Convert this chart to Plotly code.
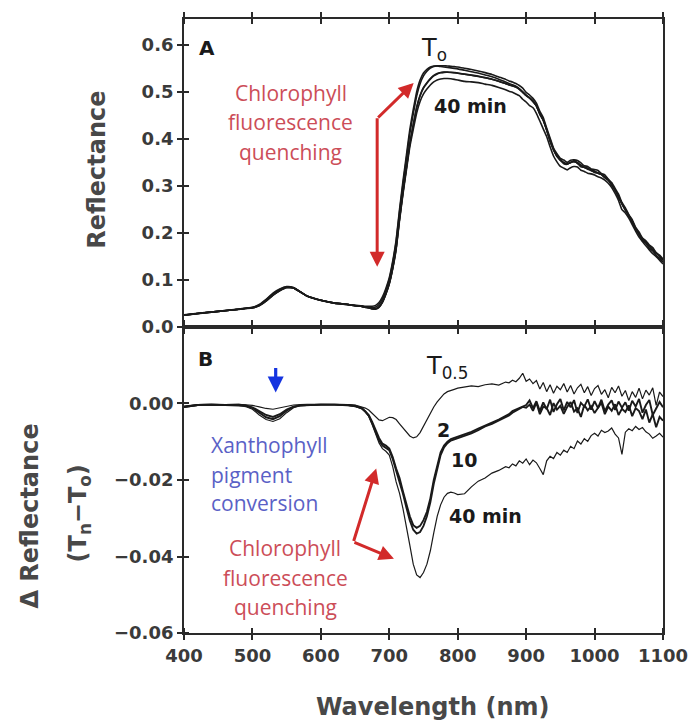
import numpy as np
import plotly.graph_objects as go

# Wavelength sampling grid (nm)
wavelength = [
    400, 420, 440, 460, 480, 490, 500, 510, 520, 530,
    540, 550, 560, 570, 580, 600, 620, 640, 650, 660,
    665, 670, 675, 680, 685, 690, 695, 700, 705, 710,
    715, 720, 725, 730, 735, 740, 745, 750, 755, 760,
    765, 770, 775, 780, 785, 790, 795, 800, 810, 820,
    830, 840, 850, 860, 870, 875, 880, 885, 890, 895,
    900, 905, 910, 915, 920, 925, 930, 935, 940, 945,
    950, 955, 960, 965, 970, 975, 980, 985, 990, 995,
    1000, 1005, 1010, 1015, 1020, 1025, 1030, 1035, 1040, 1045,
    1050, 1055, 1060, 1065, 1070, 1075, 1080, 1085, 1090, 1095,
    1100,
]

# Canopy reflectance at the start of the light treatment (T0)
refl_t0 = [
    0.026, 0.029, 0.032, 0.035, 0.038, 0.040, 0.042, 0.048, 0.059, 0.072,
    0.081, 0.086, 0.084, 0.075, 0.066, 0.057, 0.051, 0.048, 0.046, 0.045,
    0.044, 0.044, 0.044, 0.046, 0.052, 0.064, 0.082, 0.105, 0.140, 0.185,
    0.250, 0.310, 0.365, 0.420, 0.462, 0.500, 0.525, 0.540, 0.548, 0.553,
    0.555, 0.555, 0.554, 0.553, 0.552, 0.551, 0.550, 0.549, 0.546, 0.543,
    0.540, 0.536, 0.532, 0.527, 0.521, 0.518, 0.515, 0.512, 0.507, 0.500,
    0.493, 0.487, 0.481, 0.470, 0.455, 0.440, 0.420, 0.397, 0.378, 0.364,
    0.355, 0.350, 0.347, 0.350, 0.353, 0.350, 0.344, 0.340, 0.337, 0.334,
    0.331, 0.328, 0.324, 0.320, 0.313, 0.303, 0.292, 0.278, 0.263, 0.250,
    0.238, 0.225, 0.210, 0.198, 0.188, 0.180, 0.172, 0.165, 0.158, 0.150,
    0.143,
]

# Reflectance change relative to T0 after 0.5 min
delta_t05 = [
    -0.0008, -0.0003, -0.0002, -0.0003, -0.0002, -0.0003, -0.0005, -0.0009, -0.0013, -0.0015,
    -0.0012, -0.0007, -0.0004, -0.0003, -0.0002, -0.0002, -0.0002, -0.0003, -0.0004, -0.0008,
    -0.0012, -0.0017, -0.0026, -0.0036, -0.0043, -0.0045, -0.0040, -0.0036, -0.0037, -0.0042,
    -0.0053, -0.0064, -0.0076, -0.0085, -0.0090, -0.0087, -0.0076, -0.0060, -0.0042, -0.0024,
    -0.0009, 0.0004, 0.0016, 0.0025, 0.0031, 0.0035, 0.0037, 0.0040, 0.0043, 0.0046,
    0.0044, 0.0049, 0.0051, 0.0048, 0.0056, 0.0054, 0.0061, 0.0057, 0.0066, 0.0079,
    0.0058, 0.0064, 0.0052, 0.0060, 0.0038, 0.0055, 0.0031, 0.0049, 0.0027, 0.0045,
    0.0036, 0.0052, 0.0030, 0.0047, 0.0025, 0.0041, 0.0050, 0.0028, 0.0044, 0.0021,
    0.0039, 0.0047, 0.0024, 0.0036, 0.0015, 0.0042, 0.0028, 0.0046, 0.0019, 0.0034,
    0.0008, 0.0031, 0.0016, 0.0040, 0.0012, 0.0035, 0.0022, 0.0041, -0.0005, 0.0030,
    0.0018,
]

# ... after 2 min
delta_t2 = [
    -0.0008, -0.0004, -0.0003, -0.0004, -0.0003, -0.0005, -0.0010, -0.0020, -0.0030, -0.0035,
    -0.0028, -0.0016, -0.0008, -0.0005, -0.0004, -0.0003, -0.0003, -0.0004, -0.0006, -0.0012,
    -0.0020, -0.0030, -0.0048, -0.0068, -0.0090, -0.0105, -0.0110, -0.0118, -0.0140, -0.0170,
    -0.0195, -0.0230, -0.0262, -0.0295, -0.0318, -0.0325, -0.0320, -0.0305, -0.0283, -0.0248,
    -0.0200, -0.0160, -0.0128, -0.0110, -0.0100, -0.0093, -0.0090, -0.0088, -0.0082, -0.0074,
    -0.0066, -0.0057, -0.0050, -0.0042, -0.0034, -0.0028, -0.0020, -0.0016, -0.0010, -0.0007,
    -0.0004, 0.0008, -0.0012, 0.0006, -0.0020, 0.0003, -0.0015, 0.0010, -0.0022, -0.0002,
    0.0012, -0.0018, 0.0004, -0.0010, 0.0009, -0.0025, 0.0002, -0.0008, 0.0011, -0.0016,
    0.0006, -0.0012, 0.0010, -0.0020, -0.0003, 0.0008, -0.0017, 0.0005, -0.0011, 0.0003,
    -0.0019, 0.0007, -0.0008, 0.0012, -0.0024, -0.0004, 0.0009, -0.0030, -0.0012, 0.0004,
    -0.0010,
]

# ... after 10 min
delta_t10 = [
    -0.0009, -0.0004, -0.0003, -0.0004, -0.0004, -0.0006, -0.0012, -0.0024, -0.0036, -0.0041,
    -0.0033, -0.0019, -0.0009, -0.0005, -0.0004, -0.0003, -0.0003, -0.0004, -0.0007, -0.0013,
    -0.0021, -0.0032, -0.0052, -0.0074, -0.0096, -0.0110, -0.0115, -0.0122, -0.0145, -0.0175,
    -0.0200, -0.0236, -0.0272, -0.0306, -0.0330, -0.0340, -0.0336, -0.0320, -0.0295, -0.0258,
    -0.0210, -0.0168, -0.0135, -0.0115, -0.0104, -0.0097, -0.0094, -0.0092, -0.0086, -0.0078,
    -0.0070, -0.0060, -0.0053, -0.0045, -0.0037, -0.0031, -0.0024, -0.0019, -0.0014, -0.0009,
    -0.0011, -0.0003, -0.0019, 0.0002, -0.0028, -0.0008, -0.0012, -0.0030, 0.0001, -0.0016,
    -0.0006, -0.0027, -0.0009, 0.0004, -0.0021, -0.0013, -0.0035, -0.0004, -0.0018, -0.0007,
    -0.0025, -0.0010, 0.0002, -0.0028, -0.0008, -0.0019, -0.0002, -0.0030, -0.0014, -0.0022,
    -0.0005, -0.0033, -0.0012, -0.0020, -0.0041, -0.0016, -0.0050, -0.0028, -0.0062, -0.0035,
    -0.0045,
]

# ... after 40 min
delta_t40 = [
    -0.0010, -0.0005, -0.0004, -0.0005, -0.0005, -0.0008, -0.0015, -0.0030, -0.0042, -0.0047,
    -0.0040, -0.0024, -0.0011, -0.0006, -0.0005, -0.0004, -0.0004, -0.0005, -0.0008, -0.0014,
    -0.0022, -0.0034, -0.0055, -0.0080, -0.0103, -0.0118, -0.0125, -0.0135, -0.0165, -0.0205,
    -0.0235, -0.0275, -0.0318, -0.0370, -0.0420, -0.0448, -0.0455, -0.0442, -0.0420, -0.0385,
    -0.0338, -0.0295, -0.0265, -0.0245, -0.0235, -0.0232, -0.0234, -0.0238, -0.0236, -0.0218,
    -0.0203, -0.0195, -0.0182, -0.0175, -0.0165, -0.0168, -0.0158, -0.0163, -0.0150, -0.0156,
    -0.0145, -0.0160, -0.0148, -0.0155, -0.0170, -0.0186, -0.0150, -0.0138, -0.0144, -0.0128,
    -0.0135, -0.0122, -0.0128, -0.0112, -0.0118, -0.0098, -0.0106, -0.0092, -0.0099, -0.0084,
    -0.0078, -0.0085, -0.0070, -0.0076, -0.0072, -0.0064, -0.0080, -0.0090, -0.0133, -0.0075,
    -0.0066, -0.0071, -0.0060, -0.0068, -0.0063, -0.0074, -0.0080, -0.0091, -0.0085, -0.0078,
    -0.0088,
]

x_ticks = [400, 500, 600, 700, 800, 900, 1000, 1100]
refl_ticks = [0.0, 0.1, 0.2, 0.3, 0.4, 0.5, 0.6]
delta_ticks = [-0.06, -0.04, -0.02, 0.00]

INK = "#1a1a1a"
AXIS = "#2a2a2a"
LABEL_GREY = "#3a3a3a"
TITLE_GREY = "#484848"
RED = "#d22a2a"
RED_TEXT = "#cc4d58"
BLUE = "#1534e0"
BLUE_TEXT = "#5a61c6"
TICK_FONT = dict(family="DejaVu Sans", size=18, color=LABEL_GREY, weight="bold")
TEXT_FONT = "Open Sans"

t0 = np.array(refl_t0)
deltas = [np.array(d) for d in (delta_t05, delta_t2, delta_t10, delta_t40)]

fig = go.Figure()

# Panel A: reflectance spectra (T0 and later times = T0 + change)
top_series = [t0] + [t0 + d for d in deltas]
for ser in top_series:
    fig.add_trace(go.Scatter(
        x=wavelength, y=ser, xaxis="x2", yaxis="y2", mode="lines",
        line=dict(color=INK, width=1.6, shape="spline", smoothing=0.4),
        hoverinfo="skip", showlegend=False,
    ))

# Panel B: reflectance change relative to T0
widths = [1.2, 1.9, 1.9, 1.2]
for d, w in zip(deltas, widths):
    fig.add_trace(go.Scatter(
        x=wavelength, y=d, xaxis="x", yaxis="y", mode="lines",
        line=dict(color=INK, width=w),
        hoverinfo="skip", showlegend=False,
    ))

split = 309 / 620

def x_axis(**kw):
    base = dict(
        range=[400, 1100], tickvals=x_ticks, ticks="outside", ticklen=5,
        tickwidth=1.5, tickcolor=AXIS, showline=True, linecolor=AXIS,
        linewidth=1.8, mirror="ticks", showgrid=False, zeroline=False,
        minor=dict(tickvals=x_ticks, ticks="inside", ticklen=5,
                   tickwidth=1.5, tickcolor=AXIS),
        tickfont=TICK_FONT, fixedrange=True,
    )
    base.update(kw)
    return base

def y_axis(**kw):
    base = dict(
        ticks="outside", ticklen=5, tickwidth=1.5, tickcolor=AXIS,
        showline=True, linecolor=AXIS, linewidth=1.8, mirror=True,
        showgrid=False, zeroline=False, tickfont=TICK_FONT, fixedrange=True,
    )
    base.update(kw)
    return base

fig.update_layout(
    width=700, height=725,
    margin=dict(l=184, r=30, t=13, b=92),
    paper_bgcolor="white", plot_bgcolor="white",
    xaxis=x_axis(domain=[0, 1], anchor="y"),
    xaxis2=x_axis(domain=[0, 1], anchor="y2", matches="x", showticklabels=False),
    yaxis=y_axis(
        domain=[0, split], anchor="x", range=[-0.06, 0.02],
        tickvals=delta_ticks, tickformat=".2f",
        minor=dict(tickvals=delta_ticks, ticks="inside", ticklen=5,
                   tickwidth=1.5, tickcolor=AXIS),
    ),
    yaxis2=y_axis(
        domain=[split, 1], anchor="x2", range=[0, 0.655],
        tickvals=refl_ticks, tickformat=".1f",
        minor=dict(tickvals=refl_ticks, ticks="inside", ticklen=5,
                   tickwidth=1.5, tickcolor=AXIS),
    ),
    showlegend=False,
)

anns = []

def label(text, x, y, xref, yref, size, color, family="DejaVu Sans",
          xanchor="center", yanchor="middle", weight="bold", angle=0):
    anns.append(dict(
        text=text, x=x, y=y, xref=xref, yref=yref, showarrow=False,
        xanchor=xanchor, yanchor=yanchor, textangle=angle,
        font=dict(family=family, size=size, color=color, weight=weight),
    ))

def arrow(x, y, xref, yref, ax, ay, color, width=3, head=2, size=1.0):
    anns.append(dict(
        text="", x=x, y=y, xref=xref, yref=yref, ax=ax, ay=ay,
        showarrow=True, arrowhead=head, arrowsize=size, arrowwidth=width,
        arrowcolor=color,
    ))

# Panel letters
label("A", 433, 0.594, "x2", "y2", 20, INK)
label("B", 432, 0.0117, "x", "y", 20, INK)

# Panel A curve labels
label("T<sub>o</sub>", 743, 0.590, "x2", "y2", 24, INK, xanchor="left", weight="normal")
label("40 min", 819, 0.470, "x2", "y2", 19, INK)

# Panel A red annotation
for txt, yy in zip(["Chlorophyll", "fluorescence", "quenching"], [0.498, 0.435, 0.372]):
    label(txt, 556, yy, "x2", "y2", 21, RED_TEXT, family=TEXT_FONT, weight="normal")
arrow(682.3, 0.128, "x2", "y2", 0, -150, RED)
arrow(735.6, 0.519, "x2", "y2", -37, 36, RED)

# Panel B curve labels
label("T<sub>0.5</sub>", 750, 0.0094, "x", "y", 24, INK, xanchor="left", weight="normal")
label("2", 779, -0.0069, "x", "y", 19, INK)
label("10", 809, -0.0147, "x", "y", 19, INK)
label("40 min", 841, -0.0295, "x", "y", 19, INK)

# Panel B blue annotation
arrow(534, 0.0029, "x", "y", 0, -26, BLUE, width=3.2, head=2, size=1.0)
for txt, yy in zip(["Xanthophyll", "pigment", "conversion"], [-0.0108, -0.0186, -0.0261]):
    label(txt, 437, yy, "x", "y", 21, BLUE_TEXT, family=TEXT_FONT,
          xanchor="left", weight="normal")

# Panel B red annotation
for txt, yy in zip(["Chlorophyll", "fluorescence", "quenching"], [-0.0377, -0.0455, -0.0533]):
    label(txt, 548, yy, "x", "y", 21, RED_TEXT, family=TEXT_FONT, weight="normal")
arrow(680.9, -0.0170, "x", "y", -23, 74, RED)
arrow(706.8, -0.0406, "x", "y", -41, -17, RED)

# Axis titles
label("Reflectance", -0.181, 0.755, "paper", "paper", 24, TITLE_GREY, angle=-90)
label("\u0394 Reflectance", -0.321, 0.190, "paper", "paper", 24, TITLE_GREY, angle=-90)
label("(T<sub>n</sub>\u2212T<sub>o</sub>)", -0.218, 0.194, "paper", "paper", 24,
      TITLE_GREY, angle=-90)
label("Wavelength (nm)", 0.519, -0.121, "paper", "paper", 24, TITLE_GREY)

fig.update_layout(annotations=anns)

fig.write_html("out.html")
